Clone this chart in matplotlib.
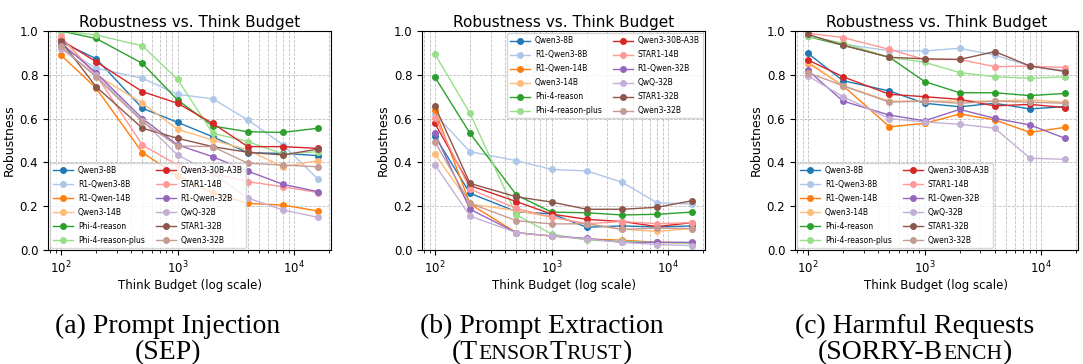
import matplotlib
matplotlib.use("Agg")
import matplotlib.pyplot as plt
import numpy as np

budgets = [100, 200, 500, 1000, 2000, 4000, 8000, 16000]
models = ["Qwen3-8B", "R1-Qwen3-8B", "R1-Qwen-14B", "Qwen3-14B", "Phi-4-reason",
          "Phi-4-reason-plus", "Qwen3-30B-A3B", "STAR1-14B", "R1-Qwen-32B",
          "QwQ-32B", "STAR1-32B", "Qwen3-32B"]

sep = [
    [0.95, 0.874, 0.647, 0.583, 0.517, 0.444, 0.441, 0.431],
    [0.93, 0.83, 0.784, 0.711, 0.69, 0.594, 0.48, 0.323],
    [0.89, 0.74, 0.444, 0.34, 0.26, 0.213, 0.205, 0.178],
    [0.97, 0.80, 0.67, 0.551, 0.502, 0.457, 0.38, 0.408],
    [1.0, 0.966, 0.852, 0.685, 0.566, 0.54, 0.537, 0.556],
    [1.0, 0.982, 0.932, 0.779, 0.533, 0.495, 0.438, 0.449],
    [0.96, 0.86, 0.723, 0.67, 0.578, 0.472, 0.472, 0.464],
    [0.975, 0.80, 0.479, 0.388, 0.35, 0.312, 0.289, 0.262],
    [0.945, 0.81, 0.60, 0.48, 0.426, 0.36, 0.30, 0.266],
    [0.92, 0.80, 0.59, 0.434, 0.35, 0.237, 0.183, 0.149],
    [0.955, 0.746, 0.556, 0.51, 0.472, 0.446, 0.434, 0.461],
    [0.93, 0.79, 0.586, 0.475, 0.472, 0.396, 0.388, 0.38],
]

tensortrust = [
    [0.52, 0.259, 0.175, 0.165, 0.104, 0.11, 0.105, 0.11],
    [0.62, 0.449, 0.408, 0.368, 0.361, 0.31, 0.216, 0.21],
    [0.64, 0.21, 0.079, 0.064, 0.05, 0.045, 0.035, 0.033],
    [0.438, 0.21, 0.18, 0.15, 0.12, 0.095, 0.085, 0.098],
    [0.79, 0.533, 0.251, 0.173, 0.17, 0.16, 0.163, 0.173],
    [0.895, 0.624, 0.16, 0.073, 0.045, 0.04, 0.035, 0.03],
    [0.578, 0.294, 0.221, 0.164, 0.14, 0.13, 0.107, 0.125],
    [0.605, 0.278, 0.19, 0.15, 0.12, 0.13, 0.12, 0.125],
    [0.533, 0.186, 0.079, 0.064, 0.053, 0.035, 0.035, 0.035],
    [0.39, 0.155, 0.079, 0.064, 0.05, 0.035, 0.025, 0.02],
    [0.657, 0.304, 0.243, 0.219, 0.186, 0.186, 0.195, 0.225],
    [0.495, 0.213, 0.134, 0.119, 0.12, 0.094, 0.1, 0.098],
]

sorry = [
    [0.898, 0.773, 0.726, 0.67, 0.654, 0.67, 0.644, 0.655],
    [0.98, 0.94, 0.91, 0.909, 0.921, 0.89, 0.84, 0.82],
    [0.855, 0.75, 0.563, 0.578, 0.621, 0.594, 0.537, 0.56],
    [0.86, 0.75, 0.68, 0.68, 0.68, 0.68, 0.685, 0.675],
    [0.975, 0.935, 0.88, 0.769, 0.718, 0.718, 0.705, 0.715],
    [0.975, 0.945, 0.88, 0.857, 0.81, 0.791, 0.784, 0.791],
    [0.868, 0.791, 0.711, 0.70, 0.688, 0.658, 0.665, 0.65],
    [0.99, 0.97, 0.916, 0.87, 0.87, 0.837, 0.84, 0.833],
    [0.82, 0.68, 0.616, 0.59, 0.642, 0.601, 0.571, 0.51],
    [0.795, 0.70, 0.60, 0.585, 0.574, 0.556, 0.419, 0.414],
    [0.985, 0.935, 0.88, 0.873, 0.87, 0.906, 0.84, 0.815],
    [0.81, 0.75, 0.675, 0.68, 0.67, 0.68, 0.675, 0.67],
]

panels = [sep, tensortrust, sorry]
legend_locs = ["lower left", "upper right", "lower left"]
captions = [
    [[("(a) Prompt Injection", 1.0)], [("(SEP)", 1.0)]],
    [[("(b) Prompt Extraction", 1.0)],
     [("(T", 1.0), ("ENSOR", 0.78), ("T", 1.0), ("RUST", 0.78), (")", 1.0)]],
    [[("(c) Harmful Requests", 1.0)],
     [("(SORRY-B", 1.0), ("ENCH", 0.78), (")", 1.0)]],
]

colors = [plt.cm.tab20(i) for i in range(20)]

W, H = 1083, 364
fig = plt.figure(figsize=(W / 100, H / 100), dpi=100)
lefts = [48, 422, 795]
ax_w, ax_top, ax_bot = 283, 31, 250

for k, data in enumerate(panels):
    ax = fig.add_axes([lefts[k] / W, 1 - ax_bot / H, ax_w / W, (ax_bot - ax_top) / H])
    for i, name in enumerate(models):
        ax.plot(budgets, data[i], marker="o", markersize=4, linewidth=1.0,
                color=colors[i], label=name)
    ax.set_xscale("log")
    ax.set_ylim(0, 1.0)
    ax.set_yticks(np.arange(0, 1.01, 0.2))
    ax.grid(True, which="both", axis="x", linestyle="--", linewidth=0.6,
            color="gray", alpha=0.5)
    ax.grid(True, which="major", axis="y", linestyle="--", linewidth=0.6,
            color="gray", alpha=0.5)
    ax.tick_params(labelsize=8.5)
    ax.set_title("Robustness vs. Think Budget", fontsize=11, pad=3)
    ax.set_xlabel("Think Budget (log scale)", fontsize=8.5, labelpad=2)
    ax.set_ylabel("Robustness", fontsize=9, labelpad=3)
    ax.legend(loc=legend_locs[k], ncol=2, fontsize=5.5, labelspacing=0.65,
              handlelength=2.6, handletextpad=0.6, columnspacing=1.5,
              borderaxespad=0.3)

# captions with simulated small caps
renderer = fig.canvas.get_renderer()
base = 20
baselines = [333, 359]
for k in range(3):
    cx = lefts[k] + ax_w / 2 - 22
    for li, pieces in enumerate(captions[k]):
        texts = []
        widths = []
        for s, scale in pieces:
            t = fig.text(0, 0, s, fontsize=base * scale, family="Liberation Serif",
                         va="baseline", ha="left")
            bb = t.get_window_extent(renderer=renderer)
            texts.append(t)
            widths.append(bb.width)
        total = sum(widths)
        x = cx - total / 2
        ybase = H - baselines[li]
        for t, w in zip(texts, widths):
            t.set_position((x / W, ybase / H))
            x += w

fig.savefig("out.png", dpi=100)
